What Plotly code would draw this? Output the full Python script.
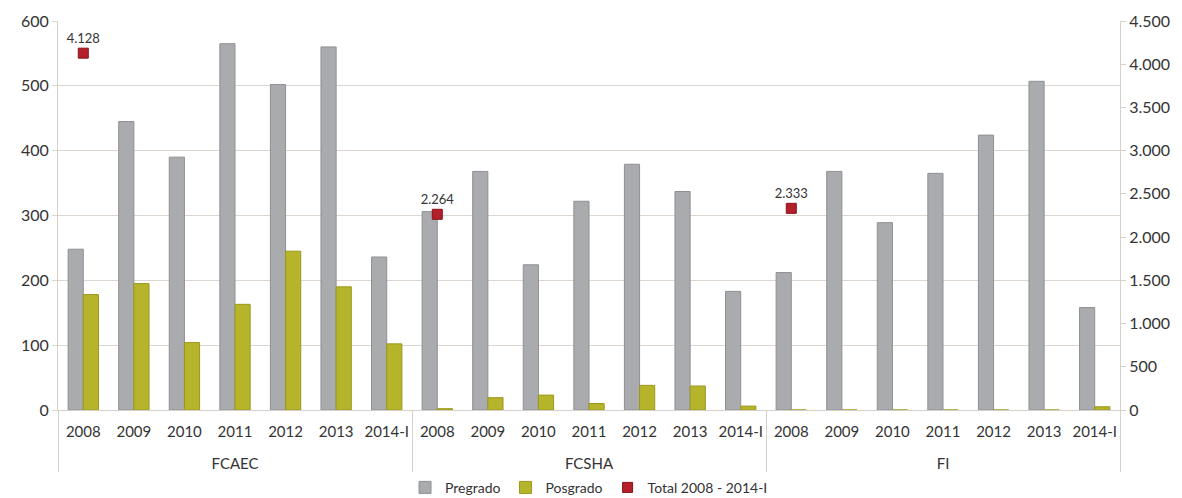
import plotly.graph_objects as go

groups = ["FCAEC", "FCSHA", "FI"]
years = ["2008", "2009", "2010", "2011", "2012", "2013", "2014-I"]

pregrado = {
    "FCAEC": [248, 445, 390, 565, 502, 560, 236],
    "FCSHA": [306, 368, 224, 322, 379, 337, 183],
    "FI":    [212, 368, 289, 365, 424, 507, 158],
}
posgrado = {
    "FCAEC": [178, 195, 104, 163, 245, 190, 102],
    "FCSHA": [2, 19, 23, 10, 38, 37, 6],
    "FI":    [0, 0, 0, 0, 0, 0, 5],
}
totals = [4128, 2264, 2333]

# display label for the outer category row (leading break pushes it lower)
grp_label = {g: "<br>" + g for g in groups}

x_grp = [grp_label[g] for g in groups for _ in years]
x_yr = [y for _ in groups for y in years]
pre_vals = [v for g in groups for v in pregrado[g]]
pos_vals = [v for g in groups for v in posgrado[g]]

font_family = "Lato, 'Noto Sans', sans-serif"

fig = go.Figure()
fig.add_trace(go.Bar(
    x=[x_grp, x_yr], y=pre_vals, name="Pregrado",
    marker=dict(color="#a9abae", line=dict(color="#8e9093", width=1)),
))
fig.add_trace(go.Bar(
    x=[x_grp, x_yr], y=pos_vals, name="Posgrado",
    marker=dict(color="#b6b42a", line=dict(color="#9a981c", width=1)),
))
fig.add_trace(go.Scatter(
    x=[[grp_label[g] for g in groups], ["2008"] * len(groups)], y=totals,
    name="Total 2008 - 2014-I",
    yaxis="y2", mode="markers+text",
    marker=dict(symbol="square", size=10, color="#b3202a", line=dict(color="#8a1018", width=1)),
    line=dict(color="#b3202a"),
    text=[f"{v:,}".replace(",", ".") for v in totals],
    textposition="top center",
    textfont=dict(size=13, color="#333333", family=font_family),
))

n_cat = len(x_yr)
# page body has an 8px offset, so figure is 8px smaller than the window
fig.update_layout(
    width=1174, height=490,
    margin=dict(l=50, r=62, t=13, b=88, autoexpand=False),
    paper_bgcolor="white", plot_bgcolor="white",
    separators=",.",
    font=dict(family=font_family, size=15, color="#333333"),
    barmode="group", bargap=0.4, bargroupgap=0,
    showlegend=True,
    legend=dict(orientation="h", x=0.5, xanchor="center", y=-0.2, yanchor="middle",
                font=dict(size=14), traceorder="normal", tracegroupgap=0),
    xaxis=dict(
        type="multicategory", range=[-0.5, n_cat - 0.5],
        showgrid=False, showline=True,
        linecolor="#d6d0ca", linewidth=1,
        dividercolor="#d6d0ca", dividerwidth=1,
        ticklabelstandoff=8,
        tickangle=0,
        tickfont=dict(size=15), automargin=False,
    ),
    yaxis=dict(
        range=[0, 600], dtick=100, showgrid=True, gridcolor="#ddd6d0",
        showline=True, linecolor="#d6d0ca", zeroline=False,
        ticks="outside", ticklen=5, tickcolor="#ddd6d0",
        tickfont=dict(size=16), automargin=False,
    ),
    yaxis2=dict(
        range=[0, 4500], dtick=500, overlaying="y", side="right",
        showgrid=False, showline=True, linecolor="#d6d0ca",
        ticks="outside", ticklen=5, tickcolor="#d6d0ca",
        tickformat=",d", tickfont=dict(size=16), zeroline=False, automargin=False,
    ),
)

fig.write_html("out.html")
